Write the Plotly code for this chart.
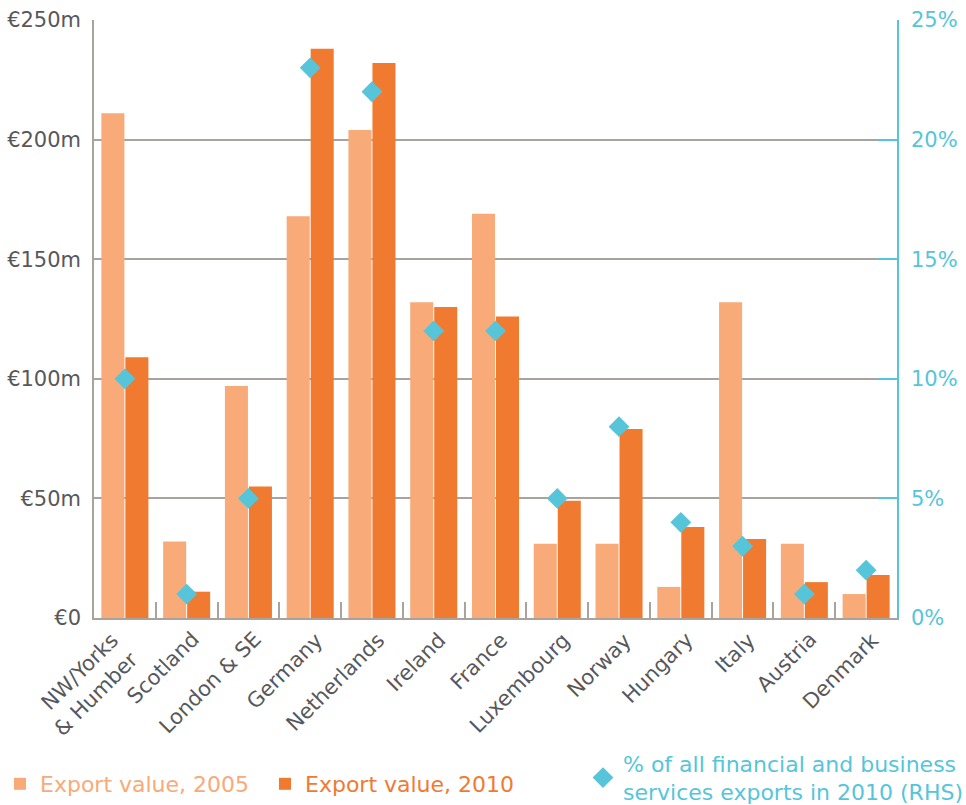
import plotly.graph_objects as go

categories = ["NW/Yorks<br>& Humber", "Scotland", "London & SE", "Germany", "Netherlands",
              "Ireland", "France", "Luxembourg", "Norway", "Hungary", "Italy", "Austria", "Denmark"]
export_2005 = [211, 32, 97, 168, 204, 132, 169, 31, 31, 13, 132, 31, 10]
export_2010 = [109, 11, 55, 238, 232, 130, 126, 49, 79, 38, 33, 15, 18]
share_2010 = [10, 1, 5, 23, 22, 12, 12, 5, 8, 4, 3, 1, 2]

left_tickvals = [0, 50, 100, 150, 200, 250]
left_ticktext = ["€0", "€50m", "€100m", "€150m", "€200m", "€250m"]
right_tickvals = [0, 5, 10, 15, 20, 25]
right_ticktext = ["0%", "5%", "10%", "15%", "20%", "25%"]

C05 = "#F8AA78"
C10 = "#F17A31"
CYAN = "#56C5DA"
GRAY = "#A9A39E"
TXT = "#58585A"
FONT = "DejaVu Sans"

fig = go.Figure()
fig.add_trace(go.Bar(x=categories, y=export_2005, name="Export value, 2005", showlegend=True,
                     marker=dict(color=C05, line=dict(width=0)), legend="legend"))
fig.add_trace(go.Bar(x=categories, y=export_2010, name="Export value, 2010", showlegend=True,
                     marker=dict(color=C10, line=dict(width=0)), legend="legend2"))
fig.add_trace(go.Scatter(x=categories, y=share_2010, yaxis="y2", mode="markers", showlegend=True,
                         name="% of all financial and business<br>services exports in 2010 (RHS)",
                         marker=dict(symbol="diamond", size=16, color=CYAN, line=dict(width=0)),
                         legend="legend3"))

# category labels as rotated annotations anchored on each category
for cat in categories:
    fig.add_annotation(x=cat, xref="x", y=0, yref="paper", text=cat,
                       textangle=-45, xanchor="right", yanchor="top", align="right",
                       xshift=20, yshift=-7, showarrow=False,
                       font=dict(size=21, color=TXT, family=FONT))

legend_common = dict(xref="container", yref="container", xanchor="left",
                     yanchor="middle", orientation="h",
                     bgcolor="rgba(0,0,0,0)", borderwidth=0)

fig.update_layout(
    width=966, height=805,
    margin=dict(l=94, r=69, t=20, b=187, autoexpand=False),
    paper_bgcolor="white", plot_bgcolor="white",
    font=dict(family=FONT, color=TXT, size=20),
    showlegend=True,
    barmode="group", bargap=0.223, bargroupgap=0.04,
    xaxis=dict(range=[-0.5, len(categories) - 0.5],
               showline=True, linecolor=GRAY, linewidth=1.5, automargin=False,
               ticks="inside", tickson="boundaries", ticklen=16, tickcolor=GRAY, tickwidth=1.5,
               showticklabels=False, showgrid=False, zeroline=False),
    yaxis=dict(range=[0, 250], tickvals=left_tickvals, ticktext=left_ticktext,
               showline=True, linecolor=GRAY, linewidth=1.5, automargin=False,
               showgrid=True, gridcolor=GRAY, gridwidth=1.5,
               ticks="", ticklabelstandoff=7, zeroline=False,
               tickfont=dict(size=21, color=TXT, family=FONT)),
    yaxis2=dict(range=[0, 25], tickvals=right_tickvals, ticktext=right_ticktext,
                overlaying="y", side="right", automargin=False,
                showline=True, linecolor=CYAN, linewidth=1.5,
                ticks="inside", ticklen=20, tickcolor=CYAN, tickwidth=1.5,
                showgrid=False, zeroline=False, ticklabelstandoff=8,
                tickfont=dict(size=21, color=CYAN, family=FONT)),
    legend=dict(x=0 / 966, y=1 - 784 / 805, font=dict(size=22, color=C05, family=FONT), **legend_common),
    legend2=dict(x=265 / 966, y=1 - 784 / 805, font=dict(size=22, color=C10, family=FONT), **legend_common),
    legend3=dict(x=583 / 966, y=1 - 778 / 805, font=dict(size=22, color=CYAN, family=FONT), **legend_common),
)

fig.write_html("out.html")
